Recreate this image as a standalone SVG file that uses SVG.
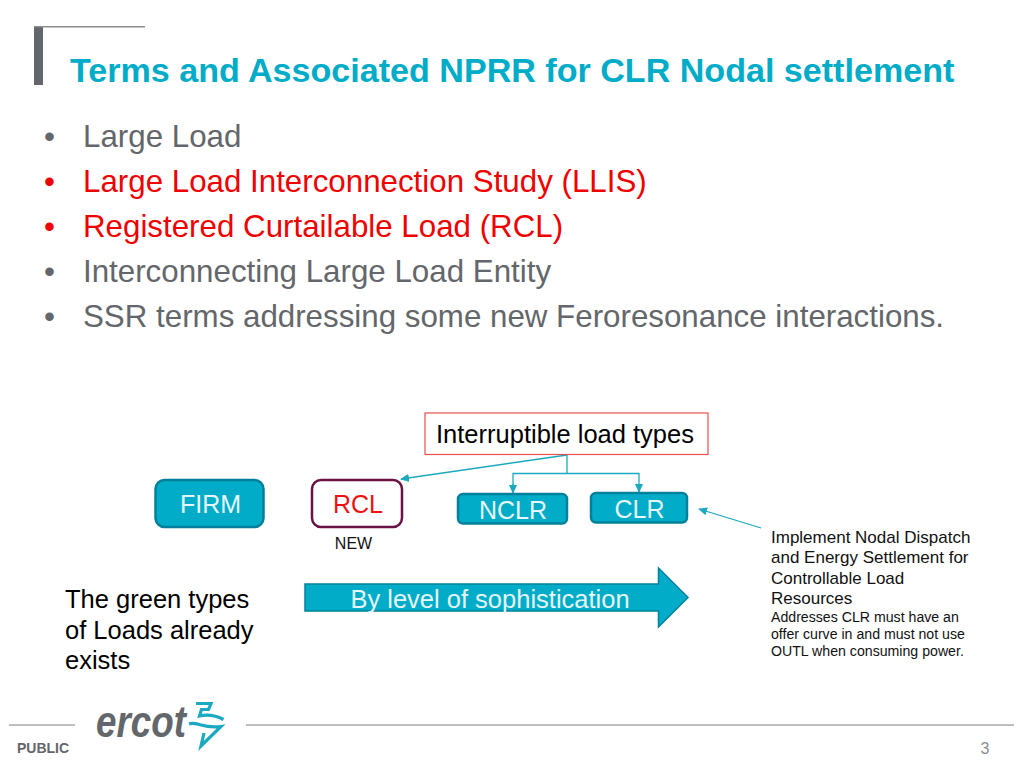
<svg xmlns="http://www.w3.org/2000/svg" width="1024" height="768" viewBox="0 0 1024 768">
<style>
text{font-family:"Liberation Sans",Arial,sans-serif}
.b{font-size:31.3px;fill:#63666a}
.r{fill:#f00000}
.box{fill:#00acc8;stroke:#00809a;stroke-width:2.500}
.w{fill:#e6f7fa;text-anchor:middle}
.c{fill:none;stroke:#1aa9c0;stroke-width:1.300}
.k{fill:#000}
.s{font-size:17px;fill:#111}
.t{font-size:14.150px;fill:#111}
.g{stroke:#7d8083;stroke-width:1.200}
.m{fill:none;stroke:#1aa9c0;stroke-width:3.200}
</style>
<defs><marker id="a" markerWidth="9" markerHeight="8" refX="8" refY="4" orient="auto" markerUnits="userSpaceOnUse"><path d="M0 0L9 4L0 8z" fill="#1aa9c0"/></marker></defs>
<rect width="1024" height="768" fill="#fff"/>
<g id="header">
<rect x="34" y="27" width="9" height="58" fill="#63666a"/>
<rect x="34" y="26" width="111" height="1.500" fill="#8a8c8e"/>
<text x="70" y="82" font-size="34.100" font-weight="700" fill="#00acc8">Terms and Associated NPRR for CLR Nodal settlement</text>
</g>
<g id="bullets">
<text x="44" y="146.500" class="b">•</text><text x="83" y="146.500" class="b">Large Load</text>
<text x="44" y="191.500" class="b r">•</text><text x="83" y="191.500" class="b" style="fill:#f00000">Large Load Interconnection Study (LLIS)</text>
<text x="44" y="236.500" class="b" style="fill:#f00000">•</text><text x="83" y="236.500" class="b" style="fill:#f00000">Registered Curtailable Load (RCL)</text>
<text x="44" y="281.500" class="b">•</text><text x="83" y="281.500" class="b">Interconnecting Large Load Entity</text>
<text x="44" y="326.500" class="b">•</text><text x="83" y="326.500" class="b">SSR terms addressing some new Feroresonance interactions.</text>
</g>
<g id="connectors">
<path class="c" d="M567 455L401 479" marker-end="url(#a)"/>
<path class="c" d="M567 455V473.500"/>
<path class="c" d="M513 493V473.500H639V492"/>
<path class="c" d="M513 484V493" marker-end="url(#a)"/>
<path class="c" d="M639 484V492" marker-end="url(#a)"/>
<path class="c" d="M761 528L699 509" marker-end="url(#a)"/>
</g>
<g id="interruptible"><rect x="425" y="413" width="283" height="41.500" fill="#fff" stroke="#e8504f" stroke-width="1.200"/><text x="436" y="443" font-size="25.500" class="k">Interruptible load types</text></g>
<g id="firm"><rect x="155.500" y="480" width="108" height="47" rx="9" class="box"/><text x="210.500" y="513" font-size="25" class="w">FIRM</text></g>
<g id="rcl"><rect x="312" y="480" width="90" height="47" rx="9" fill="#fff" stroke="#6a1244" stroke-width="2.500"/><text x="358" y="513" font-size="25" text-anchor="middle" fill="#ee1111">RCL</text><text x="353.500" y="549" font-size="16" text-anchor="middle" fill="#111">NEW</text></g>
<g id="nclr"><rect x="458" y="494" width="109" height="29.500" rx="5" class="box"/><text x="513" y="519" font-size="25" class="w">NCLR</text></g>
<g id="clr"><rect x="591" y="493" width="96" height="29.500" rx="5" class="box"/><text x="639.500" y="518" font-size="25" class="w">CLR</text></g>
<g id="arrow"><path d="M305 584H658.500V568L688 597.500L658.500 627V611H305z" fill="#00acc8" stroke="#00809a" stroke-width="1.500"/><text x="490" y="608" font-size="25.500" class="w">By level of sophistication</text></g>
<g id="note-left" font-size="25.500"><text x="65" y="608" class="k">The green types</text><text x="65" y="639" class="k">of Loads already</text><text x="65" y="669" class="k">exists</text></g>
<g id="note-right">
<text x="771" y="543" class="s">Implement Nodal Dispatch</text>
<text x="771" y="563" class="s">and Energy Settlement for</text>
<text x="771" y="584" class="s">Controllable Load</text>
<text x="771" y="604" class="s">Resources</text>
<text x="771" y="622" class="t">Addresses CLR must have an</text>
<text x="771" y="639" class="t">offer curve in and must not use</text>
<text x="771" y="656" class="t">OUTL when consuming power.</text>
</g>
<g id="footer">
<path class="g" d="M9 725H75M246 725H1014"/>
<text x="17" y="753" font-size="14" font-weight="700" fill="#63666a">PUBLIC</text>
<text x="985" y="754" font-size="16" text-anchor="middle" fill="#8a8c8e">3</text>
<text x="96" y="737" font-size="45" font-weight="700" font-style="italic" fill="#63666a" textLength="90" lengthAdjust="spacingAndGlyphs">ercot</text>
<path class="m" d="M196 703.500H211L208.500 709.500H201.500L199.500 716C208 714 215 715 223.500 719.500"/>
<path class="m" d="M189 724C197 721 203 729 221 726.500L201 746L204 733"/>
</g>
</svg>
